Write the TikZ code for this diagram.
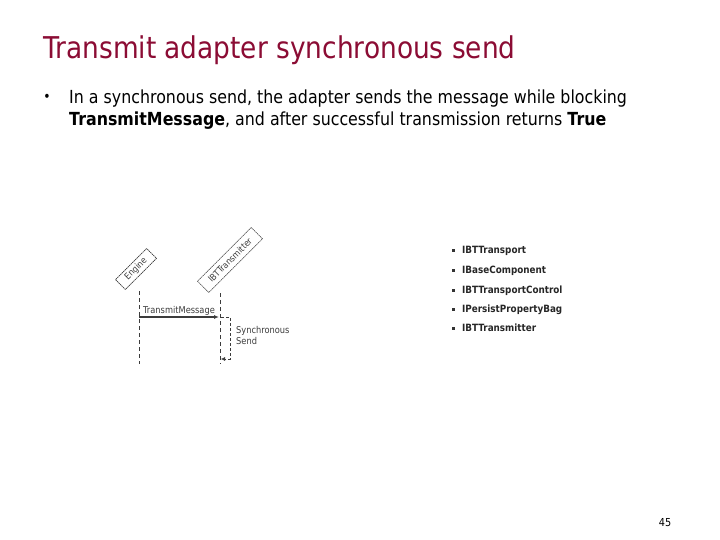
\documentclass[tikz,border=0pt]{standalone}
\usepackage{fontspec}
\setmainfont{DejaVu Sans}[FakeStretch=0.88]
\usetikzlibrary{arrows.meta}
\definecolor{titlered}{RGB}{139,12,52}
\definecolor{diagray}{RGB}{60,60,60}
\tikzset{
  px/.style={x=1pt,y=-1pt},
  lifeline/.style={draw=diagray,dash pattern=on 4pt off 3pt,line width=0.7pt},
  objbox/.style={draw=diagray,dash pattern=on 1.5pt off 0.6pt,line width=0.6pt,rotate=45,inner sep=1pt,font=\fontsize{9}{10}\selectfont,text=diagray},
  msg/.style={line width=1.1pt,draw=diagray,-{Latex[length=5pt,width=4pt]}},
  retmsg/.style={draw=diagray,dash pattern=on 3pt off 2pt,line width=0.5pt,-{Latex[length=4pt,width=4pt]}},
  lbl/.style={font=\fontsize{9.4}{11}\selectfont,text=diagray,inner sep=0pt},
  litem/.style={anchor=base west,inner sep=0pt,font=\fontsize{10}{12}\selectfont\bfseries,text=black!85},
  lbullet/.style={fill=black!80,minimum size=3pt,inner sep=0pt},
  bodytxt/.style={anchor=base west,inner sep=0pt,font=\fontsize{18}{22}\selectfont},
}
\begin{document}
\begin{tikzpicture}[px]
\useasboundingbox (0,0) rectangle (720,540);
% title
\node[anchor=base west,inner sep=0pt,text=titlered,font=\fontsize{30}{34}\selectfont] (title) at (43,59) {Transmit adapter synchronous send};
% bullet text
\node[anchor=center,inner sep=0pt,font=\fontsize{14}{14}\selectfont] (b1) at (47,98) {•};
\node[bodytxt] (body1) at (69,104) {In a synchronous send, the adapter sends the message while blocking};
\node[bodytxt] (body2) at (69,126) {\textbf{TransmitMessage}, and after successful transmission returns \textbf{True}};
% sequence diagram
\node[objbox,minimum width=44pt,minimum height=14pt] (eng) at (136,269) {Engine};
\node[objbox,minimum width=76pt,minimum height=16pt] (ibt) at (230,260) {IBTTransmitter};
\coordinate (eTop) at (139,291);
\coordinate (eBot) at (139,364);
\coordinate (iTop) at (220,293);
\coordinate (iBot) at (220,364);
\draw[lifeline] (eTop) -- (eBot);
\draw[lifeline] (iTop) -- (iBot);
\coordinate (mStart) at (139,317);
\coordinate (mEnd) at (219,317);
\draw[msg] (mStart) -- (mEnd);
\node[lbl,anchor=base] (tm) at (179,313) {TransmitMessage};
\coordinate (r1) at (221,317);
\coordinate (r2) at (230,317);
\coordinate (r3) at (230,359);
\coordinate (r4) at (221,359);
\draw[retmsg] (r1) -- (r2) -- (r3) -- (r4);
\node[lbl,anchor=north west,align=left] (ss) at (236,326) {Synchronous\\Send};
% interface list
\foreach \y/\t/\n in {250/IBTTransport/l1,270/IBaseComponent/l2,290/IBTTransportControl/l3,309/IPersistPropertyBag/l4,328/IBTTransmitter/l5}{
  \node[lbullet] (\n b) at (453,\y) {};
  \node[litem] (\n) at (462,\y+3.5) {\t};
}
% page number
\node[anchor=base,inner sep=0pt,font=\fontsize{11}{13}\selectfont] (pg) at (665,526) {45};
\end{tikzpicture}
\end{document}
